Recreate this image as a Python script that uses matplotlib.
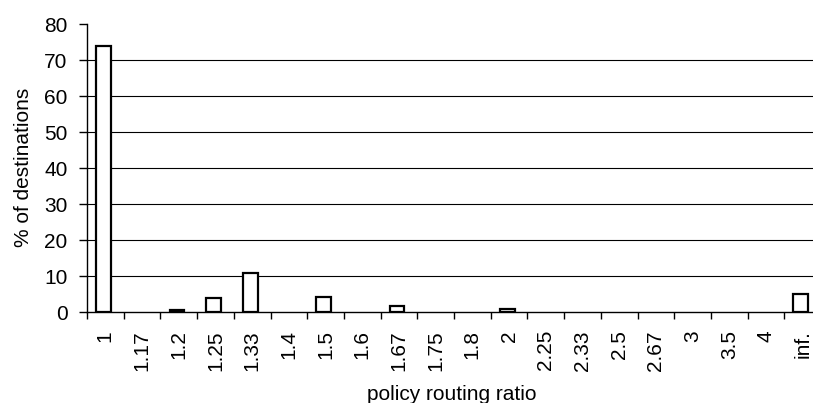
import numpy as np
import matplotlib.pyplot as plt

plt.rcParams['font.family'] = ['Liberation Sans', 'DejaVu Sans']

# categories of the policy routing ratio and share of destinations (%)
ratios = ['1', '1.17', '1.2', '1.25', '1.33', '1.4', '1.5', '1.6', '1.67', '1.75',
          '1.8', '2', '2.25', '2.33', '2.5', '2.67', '3', '3.5', '4', 'inf.']
percent = [73.8, 0, 0.6, 4.0, 10.7, 0, 4.3, 0, 1.6, 0,
           0, 0.7, 0, 0, 0, 0, 0, 0, 0, 5.0]

fig = plt.figure(figsize=(8.13, 4.03), dpi=100)
# axes run past the right edge of the picture, as in the original crop
ax = fig.add_axes([87/813, 1 - 312/403, 734/813, 288/403])

x = np.arange(len(ratios))
vals = np.array(percent)
nz = vals > 0  # empty categories get no bar at all
ax.bar(x[nz] - 0.05, vals[nz], width=0.4, color='white', edgecolor='black',
       linewidth=1.6, zorder=3)

ax.set_xlim(-0.5, len(ratios) - 0.5)
ax.set_ylim(0, 80)
ax.set_yticks(np.arange(0, 81, 10))
for v in range(10, 80, 10):
    ax.axhline(v, color='black', linewidth=0.8, zorder=1)

ax.set_xticks(x)
ax.set_xticklabels(ratios, rotation=90, va='top', ha='center')
ax.set_xticks(np.arange(-0.5, len(ratios), 1), minor=True)
ax.tick_params(axis='x', which='major', length=0, pad=13, labelsize=15)
ax.tick_params(axis='x', which='minor', length=5, width=1, direction='out')
ax.tick_params(axis='y', length=6, width=1, direction='out', labelsize=15, pad=8)

for s in ['top', 'right']:
    ax.spines[s].set_visible(False)
ax.spines['left'].set_linewidth(1)
ax.spines['bottom'].set_linewidth(1)

ax.set_xlabel('policy routing ratio', fontsize=15)
ax.xaxis.set_label_coords(0.497, -0.255)
ax.set_ylabel('% of destinations', fontsize=15)
ax.yaxis.set_label_coords(-0.073, 0.503)

fig.savefig('out.png', dpi=100)
